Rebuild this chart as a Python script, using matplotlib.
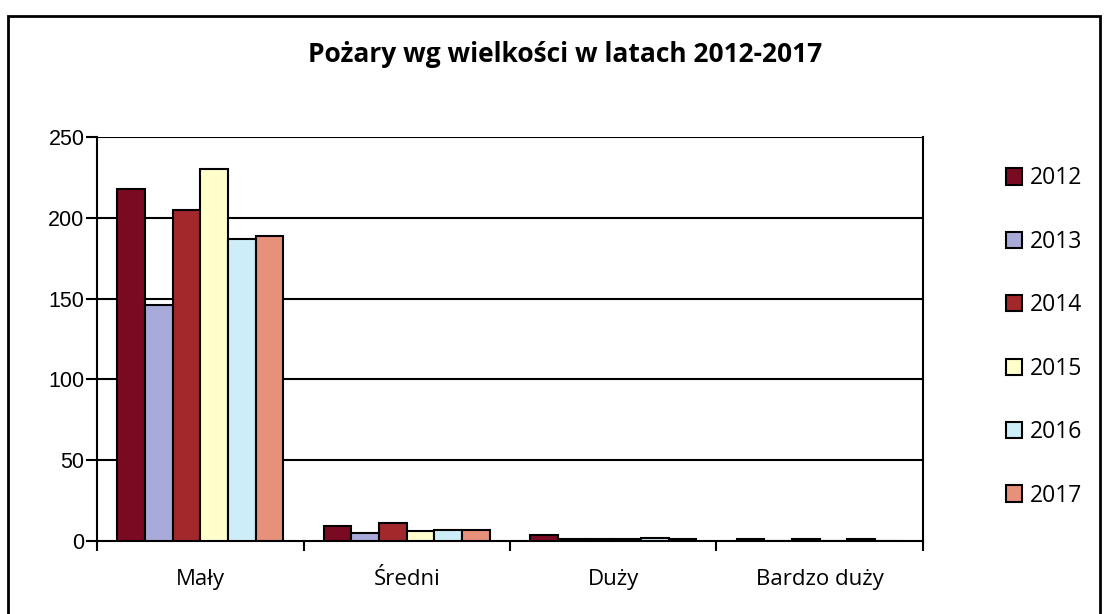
import numpy as np
import matplotlib as mpl
from matplotlib import pyplot as plt

categories = ["Mały", "Średni", "Duży", "Bardzo duży"]
years = ["2012", "2013", "2014", "2015", "2016", "2017"]
values = {
    "2012": [218, 9, 4, 1],
    "2013": [146, 5, 1, 0],
    "2014": [205, 11, 1, 1],
    "2015": [230, 6, 1, 0],
    "2016": [187, 7, 2, 1],
    "2017": [189, 7, 1, 0],
}
colors = ["#7a0a22", "#a8abd9", "#a3282c", "#ffffcc", "#cdeef8", "#e8917a"]
y_ticks = [0, 50, 100, 150, 200, 250]

plt.rcParams['font.family'] = ['Open Sans', 'DejaVu Sans']

fig = plt.figure(figsize=(11.09, 6.14), dpi=100)
ax = fig.add_axes([97 / 1109, 73 / 614, 826 / 1109, 404 / 614])

# outer chart frame (bottom edge is cut off in the original)
frame = mpl.patches.Rectangle((8 / 1109, -0.05), 1092 / 1109, 0.05 + 598 / 614,
                              transform=fig.transFigure, fill=False,
                              edgecolor="black", linewidth=2)
fig.patches.append(frame)

x = np.arange(len(categories))
bar_w = 0.134
for i, (year, color) in enumerate(zip(years, colors)):
    offset = (i - 2.5) * bar_w
    ax.bar(x + offset, values[year], width=bar_w, color=color,
           edgecolor="black", linewidth=1.5, label=year, zorder=3)

ax.set_xlim(-0.5, len(categories) - 0.5)
ax.set_ylim(0, 250)
ax.set_yticks(y_ticks)
ax.set_yticklabels([str(v) for v in y_ticks], family=['Liberation Sans'], fontsize=15.5)
for v in y_ticks[1:]:
    ax.axhline(v, color="black", linewidth=1.5, zorder=1)

ax.set_xticks(x)
ax.set_xticklabels(categories, fontsize=16)
ax.set_xticks(np.arange(-0.5, len(categories)), minor=True)
ax.tick_params(axis='x', which='major', length=0, pad=20)
ax.tick_params(axis='x', which='minor', length=7, width=1.5, direction='out')
ax.tick_params(axis='y', length=8, width=1.5, direction='out', pad=1)

ax.spines['top'].set_visible(False)
for s in ['left', 'right', 'bottom']:
    ax.spines[s].set_linewidth(1.5)

fig.text(565 / 1109, 1 - 55 / 614, "Pożary wg wielkości w latach 2012-2017",
         ha='center', va='center', fontsize=19, fontweight='bold')

fig.legend(loc='center left', bbox_to_anchor=(985 / 1109, 1 - 337 / 614),
           frameon=False, fontsize=16.5, handlelength=0.72, handleheight=0.72,
           handletextpad=0.35, labelspacing=1.72)

fig.savefig("out.png", dpi=100)
